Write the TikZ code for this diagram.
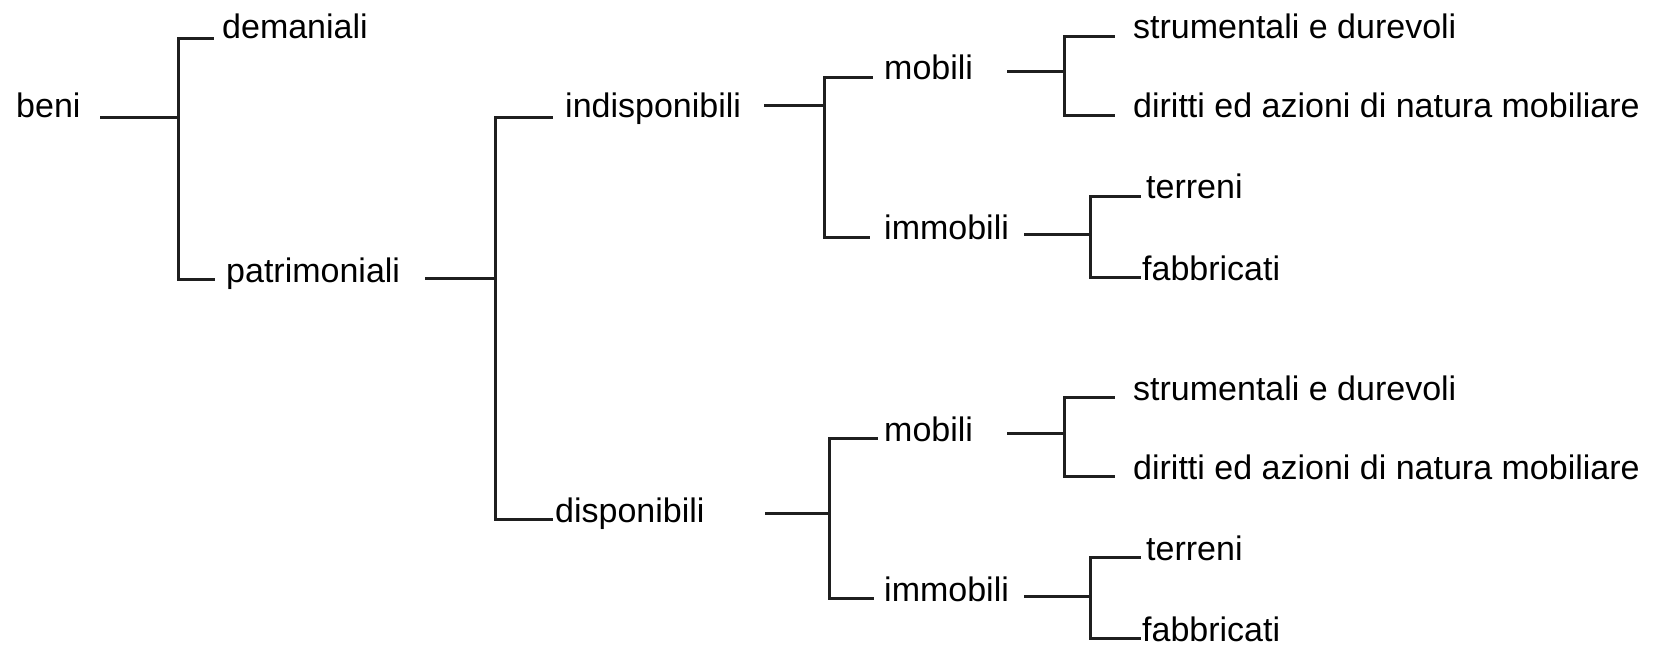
\documentclass[tikz,border=0pt]{standalone}
\usepackage{fontspec}
\setmainfont{Liberation Sans}
\usepackage{tikz}

\newcommand{\MOBIMM}[1]{
  \node (#1Mob) at (884,80) [item] {mobili};
  \node (#1Imm) at (884,240) [item] {immobili};
  \node (#1Str) at (1133,39) [item] {strumentali e durevoli};
  \node (#1Dir) at (1133,118) [item] {diritti ed azioni di natura mobiliare};
  \node (#1Ter) at (1146,199) [item] {terreni};
  \node (#1Fab) at (1142,280) [item] {fabbricati};

  \coordinate (#1FM) at (1064,72);
  \coordinate (#1FI) at (1090,235);

  \draw [edge,shorten >=34pt] (#1FM) -- (#1FM -| #1Mob.east);
  \draw [edge,shorten >=18pt] (#1FM) |- (#1Str.mid west);
  \draw [edge,shorten >=18pt] (#1FM) |- (#1Dir.mid west);

  \draw [edge,shorten >=15pt] (#1FI) -- (#1FI -| #1Imm.east);
  \draw [edge,shorten >=5pt] (#1FI) |- (#1Ter.mid west);
  \draw [edge,shorten >=1pt] (#1FI) |- (#1Fab.mid west);
}

\begin{document}
\begin{tikzpicture}
  [x=1pt,y=-1pt,
item/.style={anchor=base west,inner sep=0pt,font=\fontsize{34}{40}\selectfont},
edge/.style={line width=3pt,black!88}]

\useasboundingbox (0,0) rectangle (1663,647);

\begin{scope}
  \node (B) at (16,118) [item] {beni};
  \node (Dem) at (222,39) [item] {demaniali};
  \node (Pat) at (226,282) [item] {patrimoniali};
  \node (Ind) at (565,118) [item] {indisponibili};
  \node (Dis) at (555,522) [item] {disponibili};

  \coordinate (FB) at (178,118);
  \coordinate (FP) at (495,278);
  \coordinate (FI) at (824,106);
  \coordinate (FD) at (829,513);

  \draw [edge,shorten >=19pt] (FB) -- (FB -| B.east);
  \draw [edge,shorten >=8pt] (FB) |- (Dem.base west);
  \draw [edge,shorten >=11pt] (FB) |- (Pat.mid west);

  \draw [edge,shorten >=25pt] (FP) -- (FP -| Pat.east);
  \draw [edge,shorten >=12pt] (FP) |- (Ind.base west);
  \draw [edge,shorten >=2pt] (FP) |- (Dis.mid west);
\end{scope}

\begin{scope}
  \MOBIMM{I}
\end{scope}

\begin{scope}[shift={(0,361)}]
  \MOBIMM{D}
\end{scope}

\draw [edge,shorten >=23pt] (FI) -- (FI -| Ind.east);
\draw [edge,shorten >=11pt] (FI) |- (IMob.mid west);
\draw [edge,shorten >=14pt] (FI) |- (IImm.mid west);

\draw [edge,shorten >=60pt] (FD) -- (FD -| Dis.east);
\draw [edge,shorten >=6pt] (FD) |- (DMob.mid west);
\draw [edge,shorten >=10pt] (FD) |- (DImm.mid west);

\end{tikzpicture}
\end{document}
